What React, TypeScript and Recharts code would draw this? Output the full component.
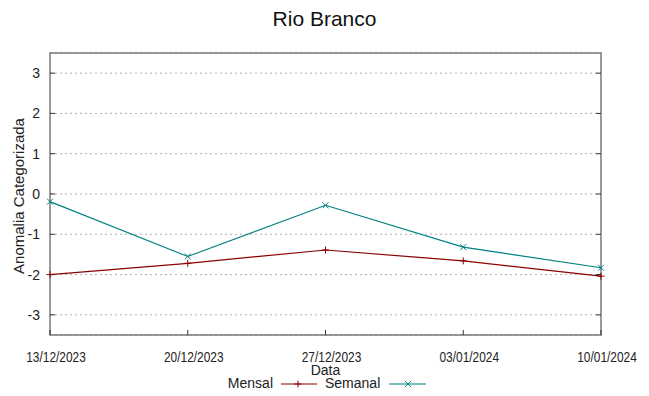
import React from 'react';
import {
	LineChart,
	Line,
	XAxis,
	YAxis,
	CartesianGrid,
	ReferenceArea,
	Legend,
	Label,
} from 'recharts';

const dates = ['13/12/2023', '20/12/2023', '27/12/2023', '03/01/2024', '10/01/2024'];
const mensal = [-2.0, -1.72, -1.39, -1.66, -2.04];
const semanal = [-0.19, -1.55, -0.28, -1.32, -1.83];
const yTicks = [-3, -2, -1, 0, 1, 2, 3];

const RED = '#8b0000';
const TEAL = '#008080';
const FONT = '"Liberation Sans", Arial, sans-serif';

const data = dates.map((d, i) => ({ date: d, mensal: mensal[i], semanal: semanal[i] }));

const PlusDot = (props: any) => {
	const { cx, cy } = props;
	if (cx == null || cy == null) return null;
	return (
		<g stroke={RED} strokeWidth={1}>
			<line x1={cx - 3.5} y1={cy} x2={cx + 3.5} y2={cy} />
			<line x1={cx} y1={cy - 3.5} x2={cx} y2={cy + 3.5} />
		</g>
	);
};

const CrossDot = (props: any) => {
	const { cx, cy } = props;
	if (cx == null || cy == null) return null;
	return (
		<g stroke={TEAL} strokeWidth={1}>
			<line x1={cx - 3} y1={cy - 3} x2={cx + 3} y2={cy + 3} />
			<line x1={cx - 3} y1={cy + 3} x2={cx + 3} y2={cy - 3} />
		</g>
	);
};

const XTick = (props: any) => {
	const { x, y, payload } = props;
	return (
		<g transform={`translate(${x + 6},${y}) scale(0.85,1)`}>
			<text x={0} y={0} dy='0.71em' textAnchor='middle' fontSize={14} fontFamily={FONT} fill='#222'>
				{payload.value}
			</text>
		</g>
	);
};

const LegendBox = () => (
	<svg width={649} height={20} style={{ display: 'block' }}>
		<g fontFamily={FONT} fontSize={14} fill='#222'>
			<text x={273} y={13} textAnchor='end'>Mensal</text>
			<line x1={281} y1={9} x2={317} y2={9} stroke={RED} strokeWidth={1.2} />
			<PlusDot cx={298} cy={9} />
			<text x={325} y={13} textAnchor='start'>Semanal</text>
			<line x1={389} y1={9} x2={426} y2={9} stroke={TEAL} strokeWidth={1.2} />
			<CrossDot cx={408} cy={9} />
		</g>
	</svg>
);

export default function App() {
	return (
		<div style={{ position: 'absolute', left: 0, top: 0, width: 649, height: 396, background: '#fff' }}>
			<div
				style={{
					position: 'absolute',
					top: 8,
					left: 0,
					width: 649,
					textAlign: 'center',
					fontFamily: FONT,
					fontSize: 21,
					lineHeight: '21px',
					color: '#111',
				}}
			>
				Rio Branco
			</div>
			<LineChart
				width={649}
				height={396}
				data={data}
				margin={{ top: 53, right: 0, bottom: 0, left: 0 }}
			>
				<CartesianGrid vertical={false} stroke='#b0b0b0' strokeDasharray='2 3' />
				<XAxis
					dataKey='date'
					height={61}
					axisLine={false}
					tickSize={-5}
					tickMargin={22}
					tickLine={{ stroke: '#333' }}
					tick={<XTick />}
					interval={0}
				>
					<Label value='Data' position='insideTop' offset={30} fontSize={14} fontFamily={FONT} fill='#222' />
				</XAxis>
				<YAxis
					type='number'
					domain={[-3.5, 3.5]}
					ticks={yTicks}
					allowDataOverflow
					width={50}
					axisLine={false}
					tickSize={-5}
					tickMargin={15}
					tickLine={{ stroke: '#333' }}
					tick={{ fontSize: 14, fontFamily: FONT, fill: '#222' }}
				>
					<Label
						content={() => (
							<text
								x={24}
								y={196}
								transform='rotate(-90 24 196)'
								textAnchor='middle'
								fontSize={15}
								fontFamily={FONT}
								fill='#222'
							>
								Anomalia Categorizada
							</text>
						)}
					/>
				</YAxis>
				<YAxis
					yAxisId='right'
					orientation='right'
					type='number'
					domain={[-3.5, 3.5]}
					ticks={yTicks}
					allowDataOverflow
					width={48}
					axisLine={false}
					tickSize={-5}
					tickLine={{ stroke: '#333' }}
					tick={() => <g />}
				/>
				<Line
					dataKey='mensal'
					name='Mensal'
					stroke={RED}
					strokeWidth={1.2}
					dot={<PlusDot />}
					activeDot={false}
					isAnimationActive={false}
				/>
				<Line
					dataKey='semanal'
					name='Semanal'
					stroke={TEAL}
					strokeWidth={1.2}
					dot={<CrossDot />}
					activeDot={false}
					isAnimationActive={false}
				/>
				<ReferenceArea
					x1={dates[0]}
					x2={dates[dates.length - 1]}
					y1={-3.5}
					y2={3.5}
					fill='none'
					fillOpacity={0}
					stroke='#7a7a7a'
					strokeWidth={1.5}
				/>
				<Legend
					verticalAlign='middle'
					align='center'
					layout='horizontal'
					content={<LegendBox />}
					wrapperStyle={{ position: 'absolute', top: 375, left: 0, width: 649 }}
				/>
			</LineChart>
		</div>
	);
}
